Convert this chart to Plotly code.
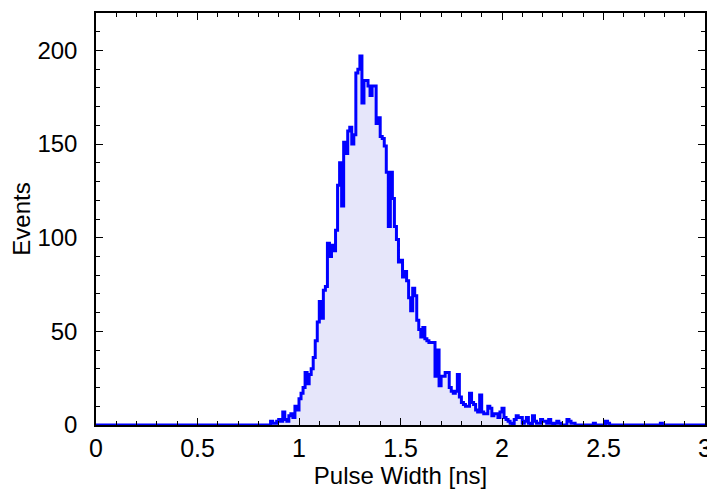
import numpy as np
import plotly.graph_objects as go

# Histogram: bin width 0.01 ns, first bin left edge at 0.85 ns
bin_start = 0.85
bin_width = 0.01
counts = [
    0, 2, 1, 1, 2, 3, 2, 7, 3, 2,          # 0.85-0.94
    5, 6, 4, 10, 8,                         # 0.95-0.99
    14, 17, 20, 28, 22, 27, 30, 36, 45, 55,  # 1.00-1.09
    66, 57, 72, 74, 97, 90, 96, 93, 104, 128,  # 1.10-1.19
    140, 117, 151, 145, 157, 159, 150, 155, 188, 190,  # 1.20-1.29
    197, 172, 184, 184, 181, 176, 181, 181, 161, 164,  # 1.30-1.39
    154, 153, 149, 135, 106, 135, 121, 106, 99, 87,  # 1.40-1.49
    88, 79, 82, 77, 68, 61, 73, 69, 56, 51,  # 1.50-1.59
    47, 52, 46, 45, 44, 44, 44, 26, 40, 21,  # 1.60-1.69
    26, 26, 28, 28, 20, 18, 17, 18, 27, 15,  # 1.70-1.79
    12, 11, 10, 10, 17, 12, 11, 8, 7, 16,  # 1.80-1.89
    7, 6, 6, 10, 9, 5, 6, 6, 4, 7,  # 1.90-1.99
    9, 4, 3, 2, 1, 0, 3, 5, 4, 4,  # 2.00-2.09
    1, 2, 4, 1, 0, 5, 2, 1, 1, 3,  # 2.10-2.19
    2, 2, 1, 3, 1, 0, 1, 2, 1, 0,  # 2.20-2.29
    0, 0, 3, 2, 1, 1, 0, 0, 0, 0,  # 2.30-2.39
    0, 0, 0, 0, 0, 1, 0, 0, 0, 0,  # 2.40-2.49
    0, 2, 1, 0, 0, 0, 0, 0, 0, 0,  # 2.50-2.59
    0, 0, 0, 0, 0, 0, 0, 0, 0, 0,  # 2.60-2.69
    0, 0, 0, 0, 0, 0, 0, 0, 1, 0,  # 2.70-2.79
    0, 0, 0, 0, 0, 0, 0, 0, 0, 0,  # 2.80-2.89
    0, 0, 0, 0, 0, 0, 0, 0, 0, 0,  # 2.90-2.99
]
x_range = [0, 3]
y_range = [0, 220]
x_ticks = [0, 0.5, 1, 1.5, 2, 2.5, 3]
x_ticklabels = ["0", "0.5", "1", "1.5", "2", "2.5", "3"]
y_ticks = [0, 50, 100, 150, 200]
y_ticklabels = ["0", "50", "100", "150", "200"]

edges = [round(bin_start + bin_width * i, 4) for i in range(len(counts))]
xs = [x_range[0]] + edges + [x_range[1]]
ys = [0] + counts + [counts[-1]]

FONT = "Liberation Sans, Arial, Helvetica, sans-serif"

fig = go.Figure()
fig.add_trace(go.Scatter(
    x=xs, y=ys, mode="lines", line_shape="hv",
    line=dict(color="#0000FF", width=3),
    fill="tozeroy", fillcolor="rgba(230,230,250,1)",
    showlegend=False, hoverinfo="skip",
))

axis_common = dict(
    showgrid=False, zeroline=False, showline=True, linecolor="black", linewidth=1.5,
    mirror="ticks", ticks="inside", ticklen=7, tickwidth=1, tickcolor="black",
    automargin=False,
)
fig.update_xaxes(
    range=x_range, tickvals=x_ticks, ticktext=x_ticklabels,
    minor=dict(dtick=0.1, ticks="inside", ticklen=4, tickcolor="black"),
    tickfont=dict(family=FONT, size=25, color="black"),
    title=dict(text="Pulse Width [ns]", standoff=6,
               font=dict(family=FONT, size=24, color="black")),
    ticklabelstandoff=0,
    **axis_common,
)
fig.update_yaxes(
    range=y_range, tickvals=y_ticks, ticktext=y_ticklabels,
    minor=dict(dtick=10, ticks="inside", ticklen=4, tickcolor="black"),
    tickfont=dict(family=FONT, size=24, color="black"),
    title=dict(text="Events", standoff=8,
               font=dict(family=FONT, size=24, color="black")),
    ticklabelstandoff=12,
    **axis_common,
)
fig.update_layout(
    width=707, height=481,
    margin=dict(l=88, r=10, t=5, b=64),
    plot_bgcolor="white", paper_bgcolor="white",
)
fig.write_html("out.html")
